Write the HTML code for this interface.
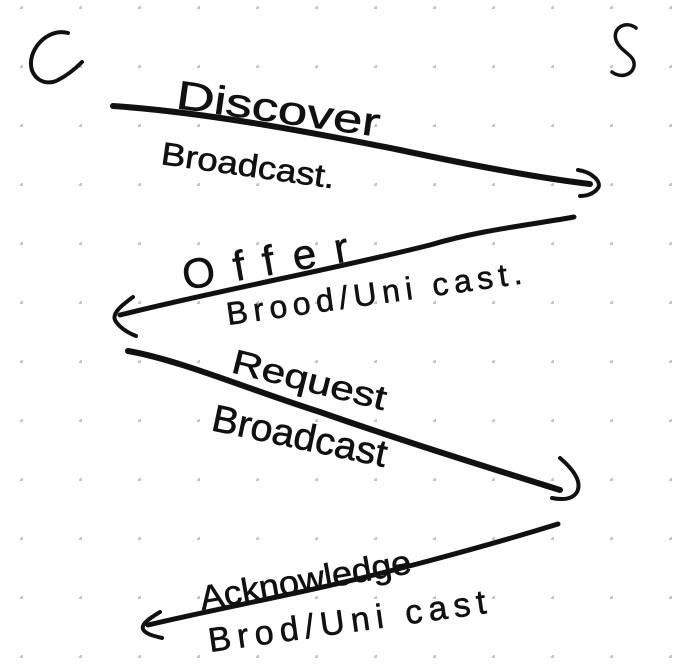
<!DOCTYPE html>
<html><head><meta charset="utf-8"><style>
html,body{margin:0;padding:0;background:#fff;}
svg{display:block;}
text{font-family:"Liberation Sans",sans-serif;fill:#111;stroke:#111;stroke-width:0.6;}
</style></head><body>
<svg width="691" height="668" viewBox="0 0 691 668" xmlns="http://www.w3.org/2000/svg">
<defs>
<pattern id="dots" x="-36" y="-50" width="59" height="59" patternUnits="userSpaceOnUse">
<circle cx="59" cy="59" r="3.2" fill="#c4c4c4"/>
</pattern>
</defs>
<rect width="691" height="668" fill="url(#dots)"/>
<g fill="none" stroke="#111" stroke-linecap="round" stroke-linejoin="round">
<path d="M68,33 C50,28 32,45 31,62 C30,78 45,87 58,80 C68,75 76,68 82,62" stroke-width="4"/>
<path d="M636,28 C626,20 612,28 616,40 C620,52 636,55 634,66 C632,76 620,78 612,72" stroke-width="3.5"/>
<path d="M113,106 C200,112 300,130 400,150 C470,165 540,178 590,184" stroke-width="6"/>
<path d="M578,170 C592,172 602,182 598,188 C594,194 586,196 580,196" stroke-width="4"/>
<path d="M574,217 C530,225 480,230 430,245 C330,270 220,290 120,315" stroke-width="5"/>
<path d="M133,297 C122,305 112,313 115,320 C118,326 126,332 136,336" stroke-width="4"/>
<path d="M128,351 C180,360 250,390 320,412 C400,440 480,465 560,490" stroke-width="6"/>
<path d="M560,458 C574,470 582,482 577,492 C572,500 562,500 552,498" stroke-width="4"/>
<path d="M558,524 C480,548 380,575 300,592 C240,605 190,615 148,625" stroke-width="5"/>
<path d="M160,612 C150,618 141,624 143,629 C145,634 154,636 162,638" stroke-width="4"/>
</g>
<text x="175" y="108" font-size="40" transform="rotate(8 175 108)" textLength="205" lengthAdjust="spacingAndGlyphs">Discover</text>
<text x="160" y="164" font-size="32" transform="rotate(8 160 164)" textLength="175" lengthAdjust="spacingAndGlyphs">Broadcast.</text>
<text x="185" y="290" font-size="42" transform="rotate(-10 185 290)" textLength="168" lengthAdjust="spacing">Offer</text>
<text x="228" y="325" font-size="32" transform="rotate(-8 228 325)" textLength="298" lengthAdjust="spacing">Brood/Uni   cast.</text>
<text x="230" y="372" font-size="34" transform="rotate(14 230 372)" textLength="158" lengthAdjust="spacingAndGlyphs">Request</text>
<text x="210" y="430" font-size="38" transform="rotate(12 210 430)" textLength="178" lengthAdjust="spacingAndGlyphs">Broadcast</text>
<text x="202" y="610" font-size="34" transform="rotate(-10 202 610)" textLength="214" lengthAdjust="spacingAndGlyphs">Acknowledge</text>
<text x="210" y="652" font-size="34" transform="rotate(-8 210 652)" textLength="280" lengthAdjust="spacing">Brod/Uni  cast</text>
</svg>
</body></html>
